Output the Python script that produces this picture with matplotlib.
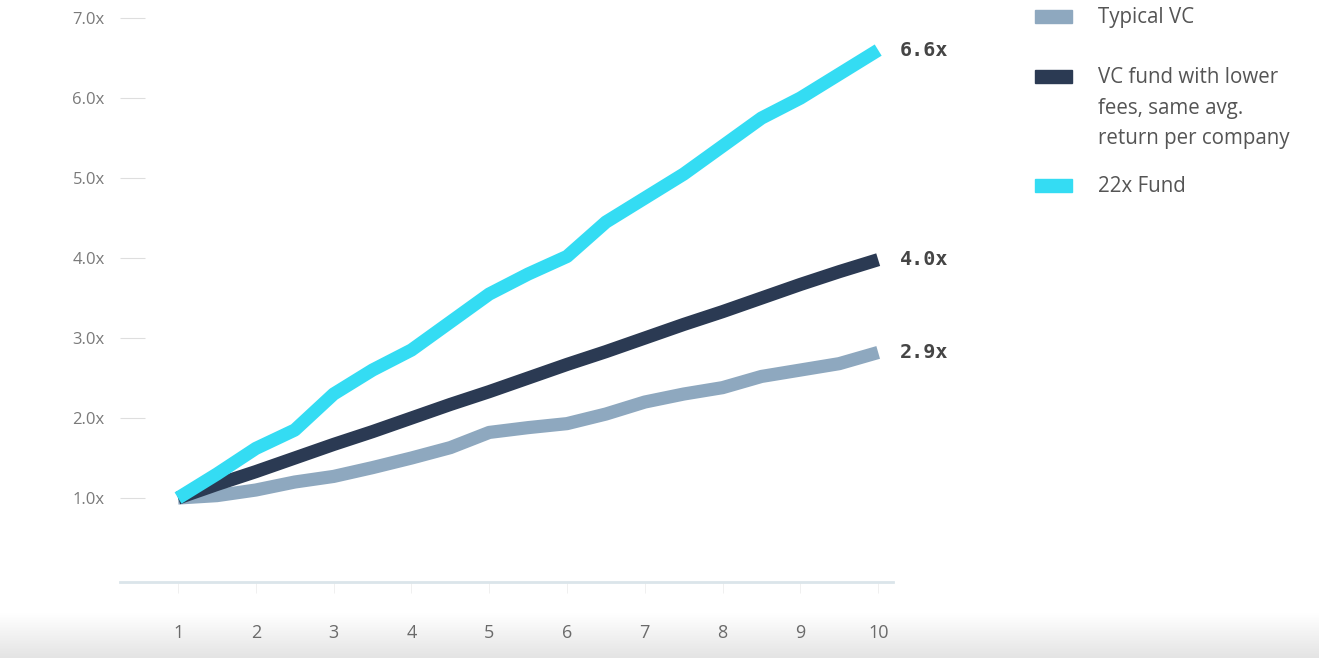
import numpy as np
import matplotlib
matplotlib.use("Agg")
import matplotlib.pyplot as plt
from matplotlib.patches import Rectangle

# anos (meio em meio ano para pegar as ondulações)
anos = [1, 1.5, 2, 2.5, 3, 3.5, 4, 4.5, 5, 5.5, 6, 6.5, 7, 7.5, 8, 8.5, 9, 9.5, 10]

typical_vc = [1.0, 1.03, 1.1, 1.2, 1.27, 1.38, 1.5, 1.63, 1.82, 1.88, 1.93,
              2.05, 2.2, 2.3, 2.38, 2.52, 2.6, 2.68, 2.82]
lower_fees = [1.0, 1.17, 1.33, 1.5, 1.67, 1.83, 2.0, 2.17, 2.33, 2.5, 2.67,
              2.83, 3.0, 3.17, 3.33, 3.5, 3.67, 3.83, 3.98]
fund_22x = [1.0, 1.3, 1.62, 1.85, 2.3, 2.6, 2.85, 3.2, 3.55, 3.8, 4.02,
            4.45, 4.75, 5.05, 5.4, 5.75, 6.0, 6.3, 6.6]

y_ticks = [1, 2, 3, 4, 5, 6, 7]
y_labels = ["1.0x", "2.0x", "3.0x", "4.0x", "5.0x", "6.0x", "7.0x"]
x_ticks = [1, 2, 3, 4, 5, 6, 7, 8, 9, 10]

end_labels = ["2.9x", "4.0x", "6.6x"]
legend_labels = ["Typical VC", "VC fund with lower\nfees, same avg.\nreturn per company", "22x Fund"]

COR_CINZA = "#8ea8bf"
COR_NAVY = "#2b3a53"
COR_CIANO = "#34dcf3"

plt.rcParams["font.family"] = ["Open Sans", "DejaVu Sans"]

fig = plt.figure(figsize=(13.19, 6.58), dpi=100)

# faixa cinza embaixo (sombra do video)
bg = fig.add_axes([0, 0, 1, 0.068], zorder=-5)
grad = np.linspace(0, 1, 50).reshape(-1, 1)
bg.imshow(grad, aspect="auto", cmap=matplotlib.colors.LinearSegmentedColormap.from_list(
  "g", ["#e4e4e4", "#ffffff"]), extent=[0, 1, 0, 1], origin="lower")
bg.axis("off")

ax = fig.add_axes([0.091, 0.1155, 0.586, 0.857])
ax.patch.set_alpha(0)

lw = 9.5
ax.plot(anos, typical_vc, color=COR_CINZA, lw=lw, solid_capstyle="butt", solid_joinstyle="round")
ax.plot(anos, lower_fees, color=COR_NAVY, lw=lw, solid_capstyle="butt", solid_joinstyle="round")
ax.plot(anos, fund_22x, color=COR_CIANO, lw=lw, solid_capstyle="butt", solid_joinstyle="round")

ax.set_xlim(0.254, 10.19)
ax.set_ylim(-0.05, 7.0)

for s in ["top", "right", "left"]:
  ax.spines[s].set_visible(False)
ax.spines["bottom"].set_color("#dbe5ea")
ax.spines["bottom"].set_linewidth(2)

ax.set_yticks(y_ticks)
ax.set_yticklabels(y_labels)
ax.tick_params(axis="y", direction="in", length=18, width=0.8, color="#dedede",
               pad=11, labelsize=12, labelcolor="#7a7a7a")
ax.set_xticks(x_ticks)
ax.tick_params(axis="x", direction="out", length=8, width=0.6, color="#eeeeee",
               pad=22, labelsize=13, labelcolor="#6a6a6a")

# rótulos no fim das linhas
finais = [typical_vc[-1], lower_fees[-1], fund_22x[-1]]
for lab, yv in zip(end_labels, finais):
  ax.annotate(lab, xy=(anos[-1], yv), xytext=(22, 0), textcoords="offset pixels",
              ha="left", va="center", fontsize=14.5, fontweight="bold",
              family="DejaVu Sans Mono", color="#454545", annotation_clip=False)

# legenda manual
W, H = 1319, 658
cores = [COR_CINZA, COR_NAVY, COR_CIANO]
ys_pix = [17, 77, 186]
for cor, lab, yp in zip(cores, legend_labels, ys_pix):
  fig.patches.append(Rectangle((1035 / W, 1 - (yp + 6) / H), 37 / W, 13 / H,
                               transform=fig.transFigure, color=cor))
  fig.text(1098 / W, 1 - (yp - 10) / H, lab, ha="left", va="top", fontsize=14.8,
           color="#555555", linespacing=1.6)

fig.savefig("out.png", dpi=100)
